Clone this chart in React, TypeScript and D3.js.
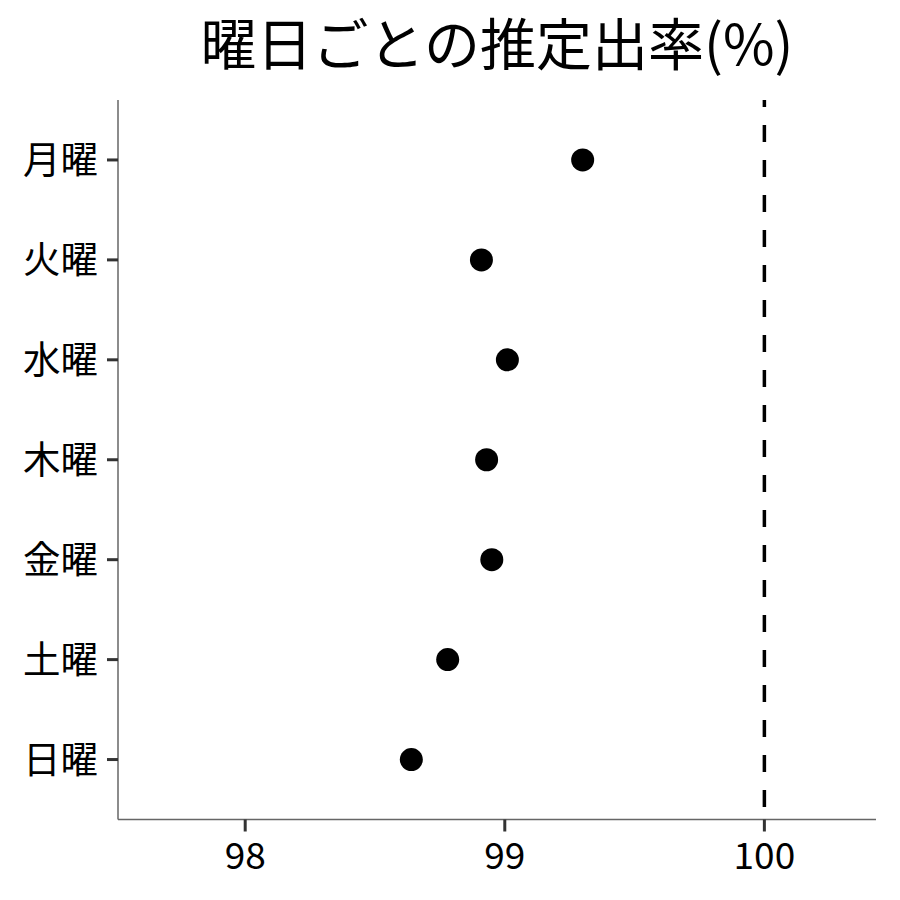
import React, { useRef, useEffect } from 'react';
import * as d3 from 'd3';

const days = ['月曜', '火曜', '水曜', '木曜', '金曜', '土曜', '日曜'];
const rates = [99.3, 98.91, 99.01, 98.93, 98.95, 98.78, 98.64];
const xTicks = [98, 99, 100];
const refLine = 100;
const title = '曜日ごとの推定出率(%)';

const W = 900;
const H = 900;
const margin = { top: 100, right: 24, bottom: 80.5, left: 118 };
const FONT = '"Noto Sans CJK JP", "Noto Sans", sans-serif';

const App: React.FC = () => {
  const svgRef = useRef<SVGSVGElement>(null);

  useEffect(() => {
    document.body.style.margin = '0';
    if (!svgRef.current) return;
    const svg = d3.select(svgRef.current);
    svg.selectAll('*').remove();

    const x = d3.scaleLinear()
      .domain([97.51, 100.43])
      .range([margin.left, W - margin.right]);

    // discrete axis with ggplot-like expansion (0.6 units each side)
    const y = d3.scaleLinear()
      .domain([0.4, days.length + 0.6])
      .range([margin.top, H - margin.bottom]);

    const g = svg.append('g');

    // axis lines
    g.append('line')
      .attr('x1', margin.left).attr('x2', margin.left)
      .attr('y1', margin.top).attr('y2', H - margin.bottom)
      .attr('stroke', '#666').attr('stroke-width', 1.5);
    g.append('line')
      .attr('x1', margin.left).attr('x2', W - margin.right)
      .attr('y1', H - margin.bottom).attr('y2', H - margin.bottom)
      .attr('stroke', '#666').attr('stroke-width', 1.5);

    // y ticks + labels
    days.forEach((d, i) => {
      const yy = y(i + 1);
      g.append('line')
        .attr('x1', margin.left - 11).attr('x2', margin.left)
        .attr('y1', yy).attr('y2', yy)
        .attr('stroke', '#333').attr('stroke-width', 3);
      g.append('text')
        .attr('x', margin.left - 20)
        .attr('y', yy)
        .attr('dy', '0.35em')
        .attr('text-anchor', 'end')
        .attr('font-family', FONT)
        .attr('font-size', 37.5)
        .attr('fill', '#000')
        .text(d);
    });

    // x ticks + labels
    xTicks.forEach(t => {
      const xx = x(t);
      g.append('line')
        .attr('x1', xx).attr('x2', xx)
        .attr('y1', H - margin.bottom).attr('y2', H - margin.bottom + 12)
        .attr('stroke', '#333').attr('stroke-width', 3);
      g.append('text')
        .attr('x', xx)
        .attr('y', H - margin.bottom + 37)
        .attr('dy', '0.35em')
        .attr('text-anchor', 'middle')
        .attr('font-family', FONT)
        .attr('font-size', 37)
        .attr('fill', '#000')
        .text(t);
    });

    // reference line
    g.append('line')
      .attr('x1', x(refLine)).attr('x2', x(refLine))
      .attr('y1', margin.top).attr('y2', H - margin.bottom)
      .attr('stroke', '#000')
      .attr('stroke-width', 3.5)
      .attr('stroke-dasharray', '17 18')
      .attr('stroke-dashoffset', 10);

    // points
    g.selectAll('circle.pt')
      .data(rates)
      .enter().append('circle')
      .attr('class', 'pt')
      .attr('cx', d => x(d))
      .attr('cy', (_, i) => y(i + 1))
      .attr('r', 11.5)
      .attr('fill', '#000');

    // title
    svg.append('text')
      .attr('x', (margin.left + W - margin.right) / 2)
      .attr('y', 45)
      .attr('dy', '0.35em')
      .attr('text-anchor', 'middle')
      .attr('font-family', FONT)
      .attr('font-size', 56)
      .attr('fill', '#000')
      .text(title);
  }, []);

  return (
    <div style={{ width: W, height: H }}>
      <svg ref={svgRef} width={W} height={H} style={{ display: 'block', background: '#fff' }} />
    </div>
  );
};

export default App;
